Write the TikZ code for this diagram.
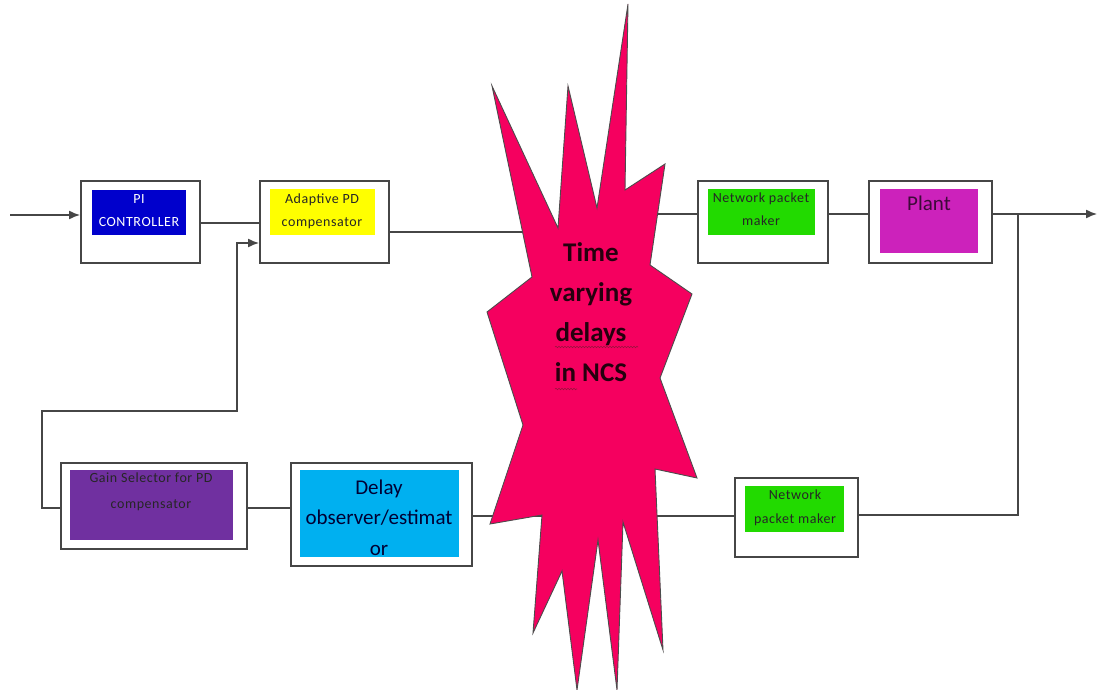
\documentclass[tikz,border=0pt]{standalone}
\usepackage{fontspec}
\setmainfont{Carlito}
\newfontfamily\boxfont{Carlito}[LetterSpace=4]
\usetikzlibrary{arrows.meta,decorations.pathmorphing}

\definecolor{piblue}{RGB}{0,0,204}
\definecolor{pdyellow}{RGB}{255,255,0}
\definecolor{npmgreen}{RGB}{34,218,0}
\definecolor{plantmag}{RGB}{204,34,187}
\definecolor{gainpurple}{RGB}{112,48,160}
\definecolor{delaycyan}{RGB}{0,176,240}
\definecolor{burst}{RGB}{245,0,95}
\definecolor{wiregray}{RGB}{70,70,70}
\definecolor{squiggle}{RGB}{150,20,60}

\begin{document}
\begin{tikzpicture}[x=1pt,y=-1pt,
  outerbox/.style={draw=wiregray, line width=1.6pt, fill=white, inner sep=0pt, anchor=north west},
  innerbox/.style={inner sep=0pt, anchor=north west},
  small/.style={font=\boxfont\fontsize{14}{23}\selectfont, text=black!85, align=center, inner sep=0pt},
  wire/.style={draw=wiregray, line width=1.4pt},
  arr/.style={wire, -{Latex[length=11pt,width=9pt]}}]
\useasboundingbox (0,0) rectangle (1097,690);

% outer block frames
\node[outerbox, minimum width=119pt, minimum height=82pt] (pi)    at (80,180)  {};
\node[outerbox, minimum width=129pt, minimum height=82pt] (ad)    at (259,180) {};
\node[outerbox, minimum width=130pt, minimum height=82pt] (npm)   at (697,180) {};
\node[outerbox, minimum width=123pt, minimum height=82pt] (plant) at (868,180) {};
\node[outerbox, minimum width=186pt, minimum height=86pt] (gain)  at (60,462)  {};
\node[outerbox, minimum width=181pt, minimum height=103pt] (delay) at (290,462) {};
\node[outerbox, minimum width=123pt, minimum height=79pt] (npmb)  at (734,477) {};

% coloured inner panels
\node[innerbox, fill=piblue,     minimum width=94pt,  minimum height=45pt] (pi-in)    at (92,190)  {};
\node[innerbox, fill=pdyellow,   minimum width=105pt, minimum height=46pt] (ad-in)    at (270,189) {};
\node[innerbox, fill=npmgreen,   minimum width=107pt, minimum height=46pt] (npm-in)   at (708,189) {};
\node[innerbox, fill=plantmag,   minimum width=98pt,  minimum height=64pt] (plant-in) at (880,189) {};
\node[innerbox, fill=gainpurple, minimum width=163pt, minimum height=70pt] (gain-in)  at (70,470)  {};
\node[innerbox, fill=delaycyan,  minimum width=159pt, minimum height=87pt] (delay-in) at (300,470) {};
\node[innerbox, fill=npmgreen,   minimum width=99pt,  minimum height=46pt] (npmb-in)  at (745,486) {};

% connectors
\coordinate (in) at (10,215);
\coordinate (out) at (1097,214);
\coordinate (tap) at (1018,214);
\coordinate (burstL) at (560,232);
\coordinate (burstR) at (650,214);
\draw[arr]  (in) -- (pi.west |- in);
\draw[wire] (pi.east |- 0,223) -- (ad.west |- 0,223);
\draw[wire] (ad.east |- burstL) -- (burstL);
\draw[wire] (burstR) -- (npm.west |- burstR);
\draw[wire] (npm.east |- 0,214) -- (plant.west |- 0,214);
\draw[arr]  (plant.east |- out) -- (out);
\draw[wire] (tap) |- (npmb.east |- 0,515);
\draw[wire] (npmb.west |- 0,516) -- (delay.east |- 0,516);
\draw[wire] (delay.west |- 0,508) -- (gain.east |- 0,508);
\draw[arr]  (gain.west |- 0,508) -| (42,411) -| (237,243) -- (ad.west |- 0,243);

% network delay starburst
\draw[fill=burst, draw=black!70, line width=0.9pt]
  (628,4) -- (625,190) -- (665,164) -- (650,265) -- (692,294) -- (660,378)
  -- (697,478) -- (655,469) -- (663,650) -- (623,522) -- (617,690) -- (598,540)
  -- (577,690) -- (562,571) -- (533,633) -- (542,515) -- (490,524) -- (523,425)
  -- (487,312) -- (532,277) -- (492,86) -- (558,228) -- (568,86) -- (597,208) -- cycle;
\node[font=\bfseries\fontsize{27}{40}\selectfont, text=black!85!burst, align=center, inner sep=0pt]
  (ncs) at (591,312) {Time\\varying\\delays\\in NCS};
\draw[squiggle, line width=0.6pt, decorate, decoration={snake, amplitude=0.7pt, segment length=3pt}]
  (555,347) -- (638,347);
\draw[squiggle, line width=0.6pt, decorate, decoration={snake, amplitude=0.7pt, segment length=3pt}]
  (555,389) -- (577,389);

% block labels
\node[small, text=white] (pi-t) at (139,210.5) {PI\\CONTROLLER};
\node[small] (ad-t) at (322,211) {Adaptive PD\\compensator};
\node[small] (npm-t) at (761,209.5) {Network packet\\maker};
\node[font=\fontsize{21}{24}\selectfont, text=black!70!plantmag, inner sep=0pt] (plant-t) at (929,203) {Plant};
\node[small, font=\boxfont\fontsize{14}{26}\selectfont] (gain-t) at (151,492) {Gain Selector for PD\\compensator};
\node[font=\fontsize{21}{30.5}\selectfont, text=black!80!blue, align=center, inner sep=0pt] (delay-t) at (379,517.5) {Delay\\observer/estimat\\or};
\node[small, font=\boxfont\fontsize{14}{24}\selectfont] (npmb-t) at (795,508) {Network\\packet maker};
\end{tikzpicture}
\end{document}
